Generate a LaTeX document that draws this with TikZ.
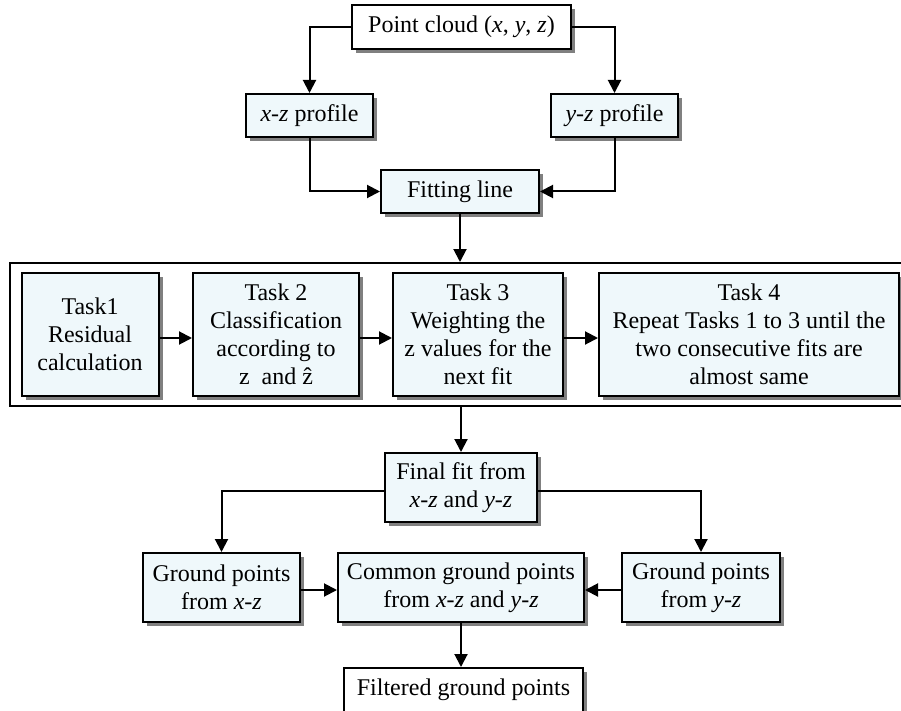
\documentclass[tikz,border=0pt]{standalone}
\usepackage{fontspec}
\setmainfont{Liberation Serif}
\usetikzlibrary{arrows.meta,shadows}
\definecolor{boxfill}{RGB}{239,248,251}
\definecolor{shadowgray}{RGB}{128,128,128}

\begin{document}
\begin{tikzpicture}[x=1pt,y=-1pt,
  every node/.style={font=\fontsize{24}{28}\selectfont, align=center, inner sep=0pt},
  basebox/.style={draw=black, line width=2pt,
    drop shadow={shadow xshift=4pt, shadow yshift=-4pt, fill=shadowgray, opacity=1}},
  whitebox/.style={basebox, fill=white},
  bluebox/.style={basebox, fill=boxfill},
  link/.style={line width=2pt, -{Triangle[length=13pt,width=13pt]}},
]
\useasboundingbox (0,0) rectangle (901,711);

% top stage: profiles and line fit
\node[whitebox, minimum width=219pt, minimum height=44pt] (pc) at (461.5,27) {Point cloud (\textit{x}, \textit{y}, \textit{z})};
\node[bluebox, minimum width=127pt, minimum height=43pt] (xz) at (309.5,115.5) {\textit{x}-\textit{z} profile};
\node[bluebox, minimum width=127pt, minimum height=43pt] (yz) at (614.5,115.5) {\textit{y}-\textit{z} profile};
\node[bluebox, minimum width=158pt, minimum height=43pt] (fit) at (460,191.5) {Fitting line};

% iterative tasks
\node[draw=black, line width=2pt, fill=white, minimum width=902pt, minimum height=143pt] (outer) at (461,334.5) {};
\node[bluebox, minimum width=137pt, minimum height=123pt] (t1) at (90,334) {Task1\\Residual\\calculation};
\node[bluebox, minimum width=166pt, minimum height=123pt] (t2) at (276,334) {Task 2\\Classification\\according to\\z\ \ and \^{z}};
\node[bluebox, minimum width=170pt, minimum height=123pt] (t3) at (478,334) {Task 3\\Weighting the\\z values for the\\next fit};
\node[bluebox, minimum width=300pt, minimum height=123pt] (t4) at (749,334) {Task 4\\Repeat Tasks 1 to 3 until the\\two consecutive fits are\\almost same};

% final fit and ground points
\node[bluebox, minimum width=152pt, minimum height=69pt] (ff) at (461,487.5) {Final fit from\\\textit{x}-\textit{z} and \textit{y}-\textit{z}};
\node[bluebox, minimum width=157pt, minimum height=69pt] (gx) at (221.5,587.5) {Ground points\\from \textit{x}-\textit{z}};
\node[bluebox, minimum width=246pt, minimum height=69pt] (cg) at (461,587.5) {Common ground points\\from \textit{x}-\textit{z} and \textit{y}-\textit{z}};
\node[bluebox, minimum width=158pt, minimum height=69pt] (gy) at (701,587.5) {Ground points\\from \textit{y}-\textit{z}};
\node[whitebox, minimum width=239pt, minimum height=44pt] (fg) at (463.5,690) {Filtered ground points};

% connectors
\draw[link] (pc.west) -| (xz.north);
\draw[link] (pc.east) -| (yz.north);
\draw[link] (xz.south) |- (fit.west);
\draw[link] (yz.south) |- (fit.east);
\draw[link] (fit.south) -- (fit.south |- outer.north);
\draw[link] ([yshift=-4pt]t1.east) -- ([yshift=-4pt]t2.west);
\draw[link] ([yshift=-4pt]t2.east) -- ([yshift=-4pt]t3.west);
\draw[link] ([yshift=-4pt]t3.east) -- ([yshift=-4pt]t4.west);
\draw[link] (outer.south) -- (ff.north);
\draw[link] ([yshift=-3pt]ff.west) -| (gx.north);
\draw[link] ([yshift=-3pt]ff.east) -| (gy.north);
\draw[link] ([yshift=-2.5pt]gx.east) -- ([yshift=-2.5pt]cg.west);
\draw[link] ([yshift=-2.5pt]gy.west) -- ([yshift=-2.5pt]cg.east);
\draw[link] (cg.south) -- (cg.south |- fg.north);
\end{tikzpicture}
\end{document}
